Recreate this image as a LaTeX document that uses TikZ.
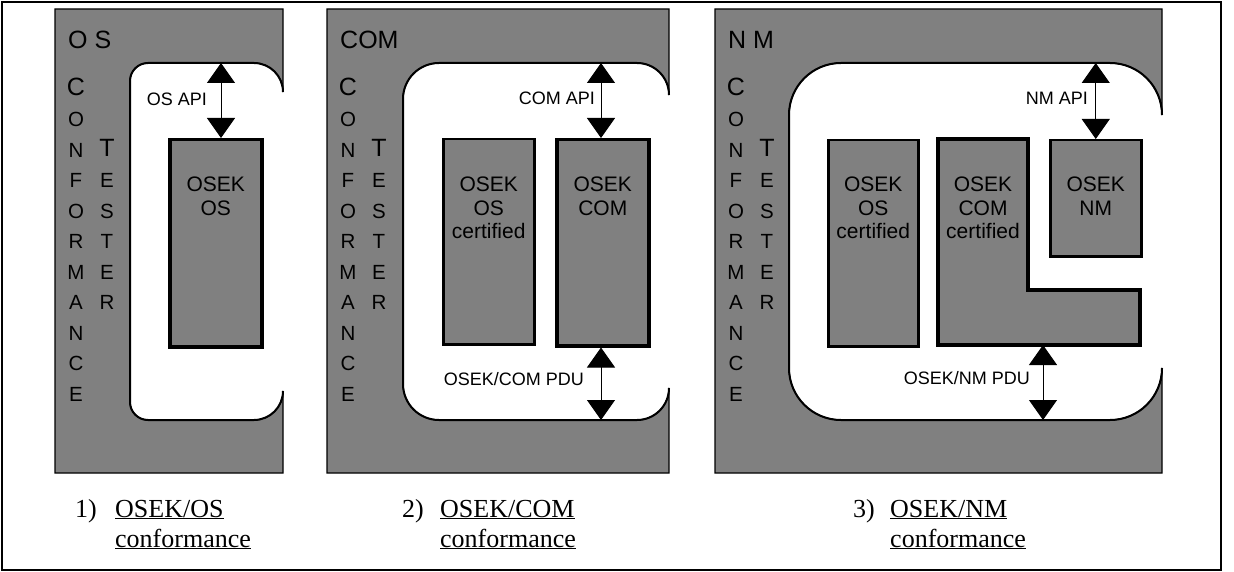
\documentclass[tikz,border=0pt]{standalone}
\usepackage{fontspec}
\setmainfont{Liberation Serif}
\setsansfont{Liberation Sans}
\usetikzlibrary{arrows.meta}
\definecolor{panelgray}{HTML}{808080}

\tikzset{
  panelfill/.style={fill=panelgray, draw=black},
  cutline/.style={line width=2pt},
  osekbox/.style={draw, fill=panelgray, line width=2.5pt, inner sep=0pt},
  ownbox/.style={osekbox, line width=3.5pt},
  boxtext/.style={font=\sffamily\fontsize{21}{23.5}\selectfont, align=center,
                  anchor=north, inner sep=0pt},
  apilabel/.style={font=\sffamily\fontsize{18}{20}\selectfont, anchor=east, inner sep=0pt},
  apiarrow/.style={{Triangle[length=20pt,width=28pt]}-{Triangle[length=20pt,width=28pt]},
                   line width=1pt},
  titletext/.style={font=\sffamily\fontsize{25}{27}\selectfont, anchor=west, inner sep=0pt},
  bigletter/.style={font=\sffamily\fontsize{25}{27}\selectfont, inner sep=0pt},
  letter/.style={font=\sffamily\fontsize{20.5}{22}\selectfont, inner sep=0pt},
  caption/.style={font=\fontsize{26}{30}\selectfont, anchor=base west, inner sep=0pt},
}

\begin{document}
\begin{tikzpicture}[x=1pt, y=-1pt]
  \useasboundingbox (0,0) rectangle (1234,572);
  \draw[line width=2pt] (2,2) rectangle (1221,570);

  % tester panels: n/left/right/inner left/left radius/right radius/title
  \foreach \n/\panL/\panR/\innL/\radL/\radR/\title in {%
    1/55/283/130/18/29/{O S},%
    2/327/669/403/36/32/{COM},%
    3/715/1162/789/52/52/{N M}}{%
    \draw[panelfill, line width=1.2pt] (\panL,9) -- (\panR,9) -- (\panR,{63+\radR})
      arc[start angle=0, end angle=90, radius=\radR pt] -- ({\innL+\radL},63)
      arc[start angle=90, end angle=180, radius=\radL pt] -- (\innL,{420-\radL})
      arc[start angle=180, end angle=270, radius=\radL pt] -- ({\panR-\radR},420)
      arc[start angle=270, end angle=360, radius=\radR pt] -- (\panR,473)
      -- (\panL,473) -- cycle;
    \draw[cutline] (\panR,{63+\radR})
      arc[start angle=0, end angle=90, radius=\radR pt] -- ({\innL+\radL},63)
      arc[start angle=90, end angle=180, radius=\radL pt] -- (\innL,{420-\radL})
      arc[start angle=180, end angle=270, radius=\radL pt] -- ({\panR-\radR},420)
      arc[start angle=270, end angle=360, radius=\radR pt];
    \node[titletext] (title\n) at ({\panL+13},40) {\title};
    % CONFORMANCE / TESTER columns
    \node[bigletter] (conf\n-0) at ({\panL+21},87) {C};
    \foreach \ch [count=\i] in {O,N,F,O,R,M,A,N,C,E}
      \node[letter] (conf\n-\i) at ({\panL+21},{89+30.5*\i}) {\ch};
    \node[bigletter] (test\n-0) at ({\panL+52},148) {T};
    \foreach \ch [count=\i] in {E,S,T,E,R}
      \node[letter] (test\n-\i) at ({\panL+52},{150+30.5*\i}) {\ch};
  }

  % 1) OS
  \node[ownbox, minimum width=92pt, minimum height=207pt, anchor=north west] (os1) at (168,138) {};
  \node[boxtext] (os1txt) at ([yshift=-39pt]os1.north) {OSEK\\OS};
  \coordinate (api1) at (221,63);
  \draw[apiarrow] (api1) -- (api1 |- os1.north);
  \node[apilabel] (api1lab) at (207,99) {OS API};

  % 2) COM
  \node[osekbox, minimum width=91pt, minimum height=205pt, anchor=north west] (oscert2) at (442,138) {};
  \node[boxtext] (oscert2txt) at ([yshift=-39pt]oscert2.north) {OSEK\\OS\\certified};
  \node[ownbox, minimum width=92pt, minimum height=206pt, anchor=north west] (com2) at (555,138) {};
  \node[boxtext] (com2txt) at ([yshift=-39pt]com2.north) {OSEK\\COM};
  \coordinate (api2) at (601,63);
  \coordinate (pdu2) at (601,420);
  \draw[apiarrow] (api2) -- (api2 |- com2.north);
  \draw[apiarrow] (com2.south -| pdu2) -- (pdu2);
  \node[apilabel] (api2lab) at (595,98) {COM API};
  \node[apilabel] (pdu2lab) at (584,379) {OSEK/COM PDU};

  % 3) NM
  \node[osekbox, minimum width=90pt, minimum height=206pt, anchor=north west] (oscert3) at (827,139) {};
  \node[boxtext] (oscert3txt) at ([yshift=-38pt]oscert3.north) {OSEK\\OS\\certified};
  \draw[osekbox, line width=3.5pt] (938,139) -- (1028,139) -- (1028,290) -- (1140,290)
    -- (1140,345) -- (938,345) -- cycle;
  \node[boxtext] (com3txt) at (983,177) {OSEK\\COM\\certified};
  \node[osekbox, minimum width=91pt, minimum height=116pt, anchor=north west] (nm3) at (1049,139) {};
  \node[boxtext] (nm3txt) at ([yshift=-38pt]nm3.north) {OSEK\\NM};
  \coordinate (api3) at (nm3.north |- 0,63);
  \coordinate (pdu3top) at (1043,345);
  \coordinate (pdu3) at (1043,420);
  \draw[apiarrow] (api3) -- (nm3.north);
  \draw[apiarrow] (pdu3top) -- (pdu3);
  \node[apilabel] (api3lab) at (1088,98.5) {NM API};
  \node[apilabel] (pdu3lab) at (1030,378.5) {OSEK/NM PDU};

  % captions
  \foreach \n/\numx/\txtx/\name in {1/75/115/OS, 2/402/440/COM, 3/853/890/NM}{
    \node[caption] (num\n) at (\numx,517) {\n)};
    \node[caption] (cap\n a) at (\txtx,517) {\underline{OSEK/\name}};
    \node[caption] (cap\n b) at (\txtx,547) {\underline{conformance}};
  }
\end{tikzpicture}
\end{document}
